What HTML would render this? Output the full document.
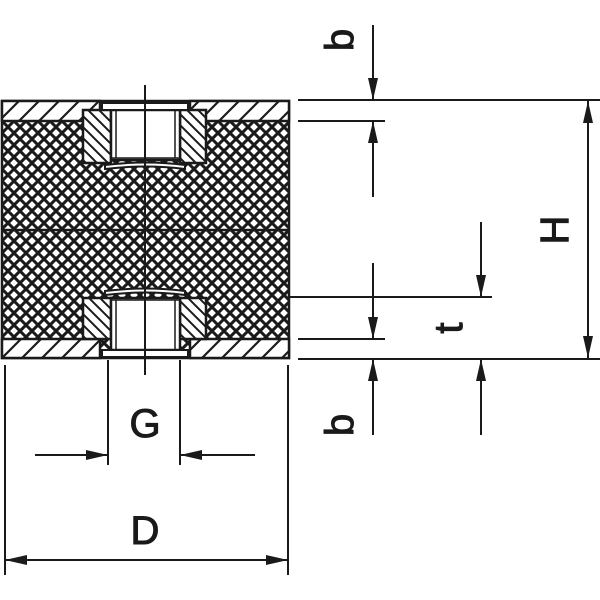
<!DOCTYPE html>
<html><head><style>html,body{margin:0;padding:0;background:#fff}svg{display:block}</style></head><body>
<svg width="600" height="600" viewBox="0 0 600 600" xmlns="http://www.w3.org/2000/svg">
<defs>
<pattern id="x" width="12" height="12" patternUnits="userSpaceOnUse" x="2" y="1">
<rect width="12" height="12" fill="#fff"/>
<path d="M-1,-1 L13,13 M-1,13 L13,-1" stroke="#1a1a1a" stroke-width="3"/>
</pattern>
<pattern id="h" width="20" height="20" patternUnits="userSpaceOnUse">
<rect width="20" height="20" fill="#fff"/>
<path d="M-5,25 L25,-5 M-5,5 L5,-5 M15,25 L25,15" stroke="#1a1a1a" stroke-width="2.2"/>
</pattern>
<pattern id="h2" width="11" height="11" patternUnits="userSpaceOnUse">
<rect width="11" height="11" fill="#fff"/>
<path d="M-3,-3 L14,14 M-3,8 L3,14 M8,-3 L14,3" stroke="#1a1a1a" stroke-width="2"/>
</pattern>
<marker id="a" markerWidth="22" markerHeight="10" refX="22" refY="5" orient="auto" markerUnits="userSpaceOnUse"><path d="M0,0 L22,5 L0,10 Z" fill="#1a1a1a"/></marker>
</defs>
<g stroke="#1a1a1a" stroke-width="2.5" fill="none">
<rect x="2" y="101" width="287" height="257" fill="url(#x)"/>
<line x1="2" y1="230" x2="289" y2="230"/>
<rect x="2" y="101" width="98" height="20" fill="url(#h)"/>
<rect x="190" y="101" width="99" height="20" fill="url(#h)"/>
<rect x="2" y="339" width="98" height="19" fill="url(#h)"/>
<rect x="190" y="339" width="99" height="19" fill="url(#h)"/>
<rect x="83" y="110" width="28" height="53" fill="url(#h2)"/>
<rect x="180" y="110" width="26" height="53" fill="url(#h2)"/>
<rect x="111" y="110" width="69" height="50" fill="#fff"/>
<line x1="116" y1="110" x2="116" y2="158" stroke-width="1.5"/>
<line x1="175" y1="110" x2="175" y2="158" stroke-width="1.5"/>
<line x1="111" y1="158" x2="180" y2="158" stroke-width="1.5"/>
<path d="M105,165 Q145,160 185,165 L185,169 Q145,164 105,169 Z" fill="#fff" stroke-width="2"/>
<rect x="102" y="103" width="86" height="7" fill="#fff" stroke-width="2"/>
<rect x="83" y="298" width="28" height="41" fill="url(#h2)"/>
<rect x="180" y="298" width="26" height="41" fill="url(#h2)"/>
<rect x="111" y="298" width="69" height="52" fill="#fff"/>
<line x1="116" y1="300" x2="116" y2="350" stroke-width="1.5"/>
<line x1="175" y1="300" x2="175" y2="350" stroke-width="1.5"/>
<line x1="111" y1="300" x2="180" y2="300" stroke-width="1.5"/>
<path d="M105,291 Q145,286 185,291 L185,295 Q145,290 105,295 Z" fill="#fff" stroke-width="2"/>
<rect x="102" y="350" width="86" height="7" fill="#fff" stroke-width="2"/>
<line x1="145" y1="85" x2="145" y2="375" stroke-width="2"/>
</g>
<g stroke="#1a1a1a" stroke-width="2" fill="none">
<line x1="298" y1="100" x2="600" y2="100"/>
<line x1="298" y1="121" x2="385" y2="121"/>
<line x1="290" y1="297" x2="492" y2="297"/>
<line x1="298" y1="339" x2="385" y2="339"/>
<line x1="298" y1="359" x2="600" y2="359"/>
<line x1="373" y1="25" x2="373" y2="100" marker-end="url(#a)"/>
<line x1="373" y1="197" x2="373" y2="121" marker-end="url(#a)"/>
<line x1="373" y1="263" x2="373" y2="339" marker-end="url(#a)"/>
<line x1="373" y1="435" x2="373" y2="359" marker-end="url(#a)"/>
<line x1="481" y1="222" x2="481" y2="297" marker-end="url(#a)"/>
<line x1="481" y1="435" x2="481" y2="359" marker-end="url(#a)"/>
<line x1="588" y1="230" x2="588" y2="101" marker-end="url(#a)"/>
<line x1="588" y1="230" x2="588" y2="358" marker-end="url(#a)"/>
<line x1="108" y1="360" x2="108" y2="465"/>
<line x1="180" y1="360" x2="180" y2="465"/>
<line x1="35" y1="455" x2="108" y2="455" marker-end="url(#a)"/>
<line x1="255" y1="455" x2="180" y2="455" marker-end="url(#a)"/>
<line x1="5" y1="365" x2="5" y2="575"/>
<line x1="288" y1="365" x2="288" y2="575"/>
<line x1="146" y1="560" x2="5" y2="560" marker-end="url(#a)"/>
<line x1="146" y1="560" x2="288" y2="560" marker-end="url(#a)"/>
</g>
<g font-family="Liberation Sans, sans-serif" font-size="40" fill="#1a1a1a" stroke="#1a1a1a" stroke-width="1" text-anchor="middle">
<text x="145" y="437">G</text>
<text x="145" y="544">D</text>
<text transform="translate(568,230) rotate(-90)">H</text>
<text transform="translate(353,40) rotate(-90)">b</text>
<text transform="translate(353,425) rotate(-90)">b</text>
<text transform="translate(462,328) rotate(-90)">t</text>
</g>
</svg>
</body></html>
